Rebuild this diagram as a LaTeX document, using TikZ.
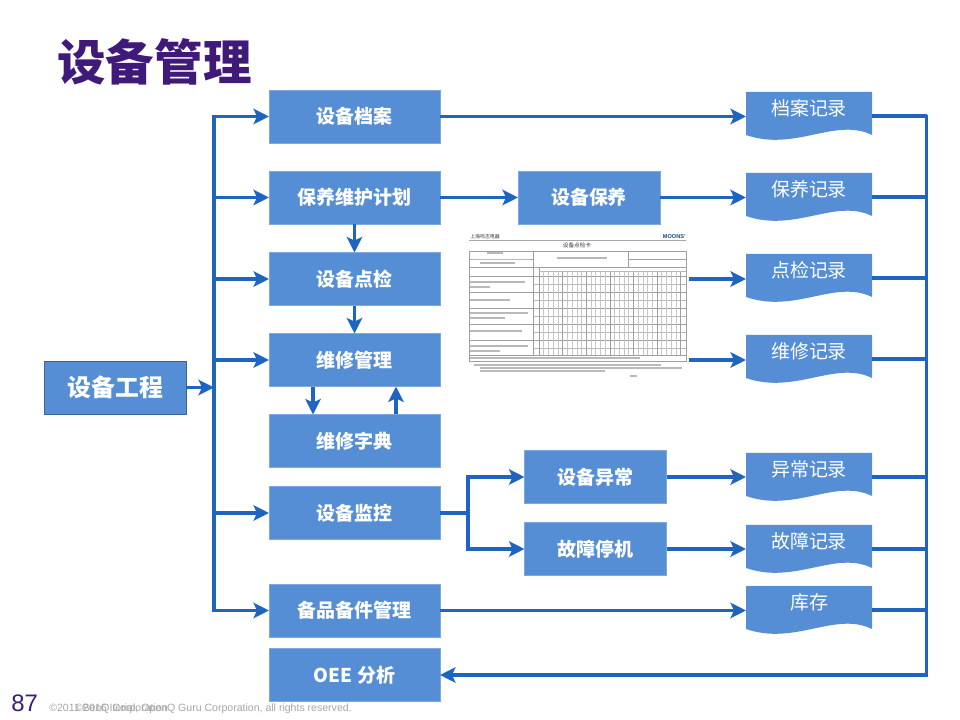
\documentclass[tikz,border=0pt]{standalone}
\usepackage{fontspec}
\usepackage{xcolor}
\newfontfamily\cjk{Noto Sans CJK SC}
\setmainfont{Liberation Sans}
\definecolor{boxblue}{HTML}{558ED5}
\definecolor{boxedge}{HTML}{7FA8E0}
\definecolor{linkblue}{HTML}{1F65C0}
\definecolor{titlepurple}{HTML}{3F1A78}
\usetikzlibrary{arrows.meta}
\tikzset{
	blockbox/.style={fill=boxblue,draw=boxedge,thin,text=white,outer sep=0pt,minimum width=4.275cm,minimum height=1.325cm,font=\cjk\bfseries\fontsize{13.5}{16}\selectfont},
	shortbox/.style={blockbox,minimum width=3.55cm},
	recordbox/.style={text=white,outer sep=0pt,inner sep=0pt,minimum width=3.15cm,minimum height=1.2cm,font=\cjk\fontsize{13.5}{16}\selectfont},
	linkline/.style={linkblue,line width=2.5pt},
	linkarrow/.style={linkline,-{Stealth[length=11pt,width=11pt,inset=2.5pt]}},
}
\begin{document}
\begin{tikzpicture}[x=0.025cm,y=-0.025cm]
	\useasboundingbox (0,0) rectangle (960,720);
	\fill[white] (0,0) rectangle (960,720);
	\node[titlepurple,font=\cjk\bfseries\fontsize{34.5}{40}\selectfont] (title) at (154.5,62) {设备管理};
	% left column
	\node[shortbox,draw=boxblue!70!black,font=\cjk\bfseries\fontsize{17}{20}\selectfont] (engineering) at (115.5,387.5) {设备工程};
	\node[blockbox] (archive) at (354.5,116.5) {设备档案};
	\node[blockbox] (plan) at (354.5,197.5) {保养维护计划};
	\node[blockbox] (inspect) at (354.5,279) {设备点检};
	\node[blockbox] (repair) at (354.5,360) {维修管理};
	\node[blockbox] (dictionary) at (354.5,441) {维修字典};
	\node[blockbox] (monitor) at (354.5,513) {设备监控};
	\node[blockbox] (spares) at (354.5,610.5) {备品备件管理};
	\node[blockbox] (oee) at (354.5,675) {OEE 分析};
	% middle column
	\node[shortbox] (upkeep) at (589,197.5) {设备保养};
	\node[shortbox] (abnormal) at (595.5,477) {设备异常};
	\node[shortbox] (stoppage) at (595.5,549) {故障停机};
	% records
	\foreach \recname/\recy/\rectext in {recarchive/92/档案记录,recupkeep/173/保养记录,recinspect/254/点检记录,recrepair/335/维修记录,recabnormal/453/异常记录,recstoppage/525/故障记录,recstock/586/库存}{
		\fill[boxblue] (746,\recy) -- (872,\recy) -- (872,\recy+43) .. controls (835,\recy+25) and (795,\recy+60) .. (746,\recy+43) -- cycle;
		\node[recordbox] (\recname) at (809,\recy+24) {\raisebox{11.5pt}{\rectext}};
	}
	% form
	\node[font=\cjk\fontsize{3.5}{4}\selectfont,text=black!80,anchor=west,inner sep=0pt] (formhead) at (470,237) {上海鸣志电器};
	\node[font=\bfseries\fontsize{4}{5}\selectfont,text=linkblue!70!black,anchor=east,inner sep=0pt] (formlogo) at (686,237) {MOONS'};
	\node[font=\cjk\fontsize{4}{5}\selectfont,text=black!80,inner sep=0pt] (formtitle) at (577,245) {设备点检卡};
	\draw[gray!70,thin] (469,240) -- (686,240);
	\begin{scope}[gray!75,line width=0.35pt]
		\draw (469,251) rectangle (686,361);
		\draw (469,259) -- (533,259) (628,259) -- (686,259);
		\draw (469,267) -- (686,267);
		\foreach \rowy in {276,292,308,324,340,355}
			\draw (469,\rowy) -- (686,\rowy);
		\foreach \rowy in {284,300,316,332,348}
			\draw[gray!55] (533,\rowy) -- (686,\rowy);
		\draw (533,251) -- (533,355) (539,267) -- (539,355);
		\foreach \colx in {0,...,30}
			\draw[gray!45] ({539+\colx*4.72},271) -- ({539+\colx*4.72},355);
		\foreach \colx in {0,5,...,30}
			\draw ({539+\colx*4.72},271) -- ({539+\colx*4.72},355);
		\draw[gray!55] (539,271) -- (686,271);
		\draw (628,251) -- (628,267);
	\end{scope}
	% blurred small lines of the form
	\begin{scope}[gray!55,line width=0.8pt]
		\draw (557,258) -- (607,258);
		\draw (480,263) -- (515,263) (487,253) -- (503,253) (471,259.5) -- (530,259.5);
		\foreach \rowy/\rowend in {282/525,287/490,300/510,313/528,318/505,331/522,346/528,351/500}
			\draw (470,\rowy) -- (\rowend,\rowy);
		\draw (470,358) -- (640,358) (474,365) -- (661,365) (480,368) -- (682,368) (480,371) -- (605,371) (630,376) -- (637,376);
	\end{scope}
	% connectors
	\coordinate (busleft top) at (214,116.5);
	\coordinate (busleft bottom) at (214,610.5);
	\coordinate (busleft mid) at (214,387.5);
	\coordinate (busright top) at (926.5,116.5);
	\coordinate (busright bottom) at (926.5,675);
	\coordinate (formright a) at (689,279);
	\coordinate (formright b) at (689,360);
	\coordinate (forkmid) at (468,513);
	\draw[linkline,line cap=rect] (busleft top) -- (busleft bottom);
	\draw[linkarrow] (engineering) -- (busleft mid);
	\draw[linkarrow] (busleft top) -- (archive);
	\foreach \target in {plan,inspect,repair,monitor,spares}
		\draw[linkarrow] (busleft top |- \target) -- (\target);
	\draw[linkarrow] (plan) -- (inspect);
	\draw[linkarrow] (inspect) -- (repair);
	\draw[linkarrow] (repair.south -| 313,0) -- (dictionary.north -| 313,0);
	\draw[linkarrow] (dictionary.north -| 396,0) -- (repair.south -| 396,0);
	\draw[linkarrow] (archive) -- (archive -| recarchive.west);
	\draw[linkarrow] (plan) -- (upkeep);
	\draw[linkarrow] (upkeep) -- (upkeep -| recupkeep.west);
	\draw[linkarrow] (formright a) -- (formright a -| recinspect.west);
	\draw[linkarrow] (formright b) -- (formright b -| recrepair.west);
	\draw[linkline] (monitor) -- (forkmid);
	\draw[linkarrow] (forkmid) |- (abnormal);
	\draw[linkarrow] (forkmid) |- (stoppage);
	\draw[linkarrow] (abnormal) -- (abnormal -| recabnormal.west);
	\draw[linkarrow] (stoppage) -- (stoppage -| recstoppage.west);
	\draw[linkarrow] (spares) -- (spares -| recstock.west);
	\draw[linkline,line cap=rect] (busright top) -- (busright bottom);
	\foreach \source in {recarchive,recupkeep,recinspect,recrepair,recabnormal,recstoppage,recstock}
		\draw[linkline] (\source) -- (\source -| busright top);
	\draw[linkarrow] (busright bottom) -- (oee);
	% footer
	\node[titlepurple,font=\fontsize{17}{20}\selectfont,anchor=west,inner sep=0pt] (pagenum) at (11,703) {87};
	\node[gray!70,font=\fontsize{7.5}{9}\selectfont,anchor=west,inner sep=0pt] (copyone) at (49,708.5) {©2011 BenQ Corporation};
	\node[gray!70,font=\fontsize{7.5}{9}\selectfont,anchor=east,inner sep=0pt] (copytwo) at (352,708.5) {©2016 Iterial, OpenQ Guru Corporation, all rights reserved.};
\end{tikzpicture}
\end{document}
